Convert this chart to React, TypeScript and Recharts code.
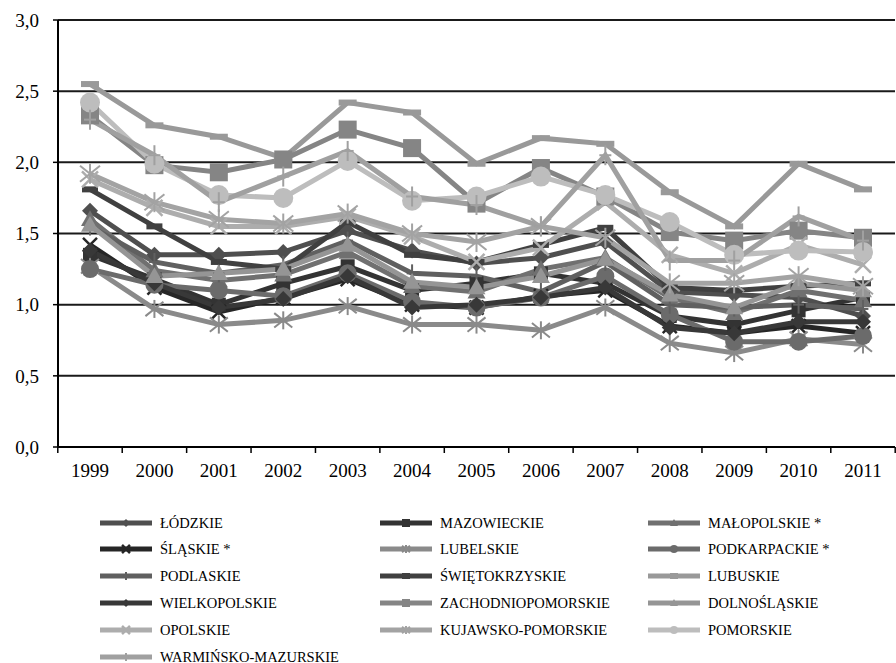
import React from 'react';
import { LineChart, Line, XAxis, YAxis, CartesianGrid } from 'recharts';

const years = ['1999', '2000', '2001', '2002', '2003', '2004', '2005', '2006', '2007', '2008', '2009', '2010', '2011'];
const yTicks = [0, 0.5, 1, 1.5, 2, 2.5, 3];

const lodzkie = [1.66, 1.35, 1.35, 1.37, 1.52, 1.38, 1.29, 1.33, 1.44, 1.09, 1.07, 1.05, 0.92];
const mazowieckie = [1.35, 1.18, 1.0, 1.15, 1.27, 1.1, 1.15, 1.22, 1.15, 0.92, 0.86, 0.96, 1.05];
const malopolskie = [1.6, 1.24, 1.17, 1.21, 1.37, 1.13, 1.09, 1.25, 1.33, 1.05, 0.94, 1.1, 1.03];
const slaskie = [1.42, 1.12, 0.95, 1.05, 1.18, 1.0, 0.98, 1.06, 1.1, 0.85, 0.8, 0.85, 0.8];
const lubelskie = [1.27, 0.97, 0.86, 0.89, 0.99, 0.86, 0.86, 0.82, 0.98, 0.73, 0.66, 0.76, 0.72];
const podkarpackie = [1.25, 1.14, 1.1, 1.06, 1.22, 1.02, 0.98, 1.05, 1.2, 0.93, 0.74, 0.74, 0.78];
const podlaskie = [1.55, 1.3, 1.22, 1.28, 1.45, 1.22, 1.2, 1.09, 1.3, 1.0, 0.98, 1.0, 0.97];
const swietokrzyskie = [1.81, 1.55, 1.3, 1.25, 1.58, 1.35, 1.3, 1.42, 1.54, 1.12, 1.1, 1.13, 1.15];
const lubuskie = [2.55, 2.26, 2.18, 2.03, 2.42, 2.35, 1.99, 2.17, 2.13, 1.79, 1.55, 1.99, 1.81];
const wielkopolskie = [1.38, 1.15, 0.98, 1.04, 1.2, 0.98, 1.0, 1.05, 1.12, 0.84, 0.8, 0.88, 0.88];
const zachodniopomorskie = [2.33, 1.98, 1.93, 2.02, 2.23, 2.1, 1.71, 1.96, 1.76, 1.51, 1.45, 1.52, 1.47];
const dolnoslaskie = [1.56, 1.2, 1.22, 1.25, 1.42, 1.16, 1.12, 1.2, 1.32, 1.07, 0.98, 1.15, 1.1];
const opolskie = [1.88, 1.68, 1.55, 1.55, 1.62, 1.48, 1.3, 1.4, 1.72, 1.35, 1.22, 1.42, 1.28];
const kujawskoPomorskie = [1.92, 1.72, 1.6, 1.57, 1.64, 1.5, 1.44, 1.55, 1.47, 1.15, 1.15, 1.2, 1.13];
const pomorskie = [2.42, 1.99, 1.77, 1.75, 2.01, 1.73, 1.76, 1.9, 1.77, 1.58, 1.35, 1.38, 1.37];
const warminskoMazurskie = [2.3, 2.05, 1.72, 1.9, 2.08, 1.76, 1.7, 1.55, 2.05, 1.31, 1.31, 1.62, 1.45];

type Shape = 'diamond' | 'square' | 'triangle' | 'x' | 'star' | 'circle' | 'plus' | 'dash';

const series: { key: string; name: string; values: number[]; color: string; shape: Shape; size: number }[] = [
  { key: 's1', name: 'ŁÓDZKIE', values: lodzkie, color: '#4f4f4f', shape: 'diamond', size: 8 },
  { key: 's2', name: 'MAZOWIECKIE', values: mazowieckie, color: '#333333', shape: 'square', size: 7 },
  { key: 's3', name: 'MAŁOPOLSKIE *', values: malopolskie, color: '#707070', shape: 'triangle', size: 9 },
  { key: 's4', name: 'ŚLĄSKIE *', values: slaskie, color: '#262626', shape: 'x', size: 7 },
  { key: 's5', name: 'LUBELSKIE', values: lubelskie, color: '#8a8a8a', shape: 'star', size: 9 },
  { key: 's6', name: 'PODKARPACKIE *', values: podkarpackie, color: '#6b6b6b', shape: 'circle', size: 9 },
  { key: 's7', name: 'PODLASKIE', values: podlaskie, color: '#606060', shape: 'plus', size: 9 },
  { key: 's8', name: 'ŚWIĘTOKRZYSKIE', values: swietokrzyskie, color: '#404040', shape: 'dash', size: 8 },
  { key: 's9', name: 'LUBUSKIE', values: lubuskie, color: '#999999', shape: 'dash', size: 9 },
  { key: 's10', name: 'WIELKOPOLSKIE', values: wielkopolskie, color: '#383838', shape: 'diamond', size: 8 },
  { key: 's11', name: 'ZACHODNIOPOMORSKIE', values: zachodniopomorskie, color: '#858585', shape: 'square', size: 9 },
  { key: 's12', name: 'DOLNOŚLĄSKIE', values: dolnoslaskie, color: '#959595', shape: 'triangle', size: 9 },
  { key: 's13', name: 'OPOLSKIE', values: opolskie, color: '#adadad', shape: 'x', size: 8 },
  { key: 's14', name: 'KUJAWSKO-POMORSKIE', values: kujawskoPomorskie, color: '#a3a3a3', shape: 'star', size: 10 },
  { key: 's15', name: 'POMORSKIE', values: pomorskie, color: '#bdbdbd', shape: 'circle', size: 10 },
  { key: 's16', name: 'WARMIŃSKO-MAZURSKIE', values: warminskoMazurskie, color: '#a0a0a0', shape: 'plus', size: 10 },
];

const data = years.map((year, i) => {
  const row: Record<string, string | number> = { year };
  series.forEach((s) => {
    row[s.key] = s.values[i];
  });
  return row;
});

const FONT = "'Liberation Serif', 'DejaVu Serif', serif";

function Marker({ cx, cy, shape, color, size }: { cx: number; cy: number; shape: Shape; color: string; size: number }) {
  const s = size;
  switch (shape) {
    case 'diamond':
      return <polygon points={`${cx},${cy - s} ${cx + s},${cy} ${cx},${cy + s} ${cx - s},${cy}`} fill={color} />;
    case 'square':
      return <rect x={cx - s} y={cy - s} width={s * 2} height={s * 2} fill={color} />;
    case 'triangle':
      return <polygon points={`${cx},${cy - s} ${cx + s},${cy + s * 0.75} ${cx - s},${cy + s * 0.75}`} fill={color} />;
    case 'circle':
      return <circle cx={cx} cy={cy} r={s} fill={color} />;
    case 'x':
      return (
        <g stroke={color} strokeWidth={2.5}>
          <line x1={cx - s} y1={cy - s} x2={cx + s} y2={cy + s} />
          <line x1={cx - s} y1={cy + s} x2={cx + s} y2={cy - s} />
        </g>
      );
    case 'star':
      return (
        <g stroke={color} strokeWidth={2}>
          <line x1={cx - s} y1={cy - s * 0.8} x2={cx + s} y2={cy + s * 0.8} />
          <line x1={cx - s} y1={cy + s * 0.8} x2={cx + s} y2={cy - s * 0.8} />
          <line x1={cx} y1={cy - s} x2={cx} y2={cy + s} />
        </g>
      );
    case 'plus':
      return (
        <g stroke={color} strokeWidth={2}>
          <line x1={cx} y1={cy - s} x2={cx} y2={cy + s} />
          <line x1={cx - s * 0.6} y1={cy} x2={cx + s * 0.6} y2={cy} />
        </g>
      );
    case 'dash':
      return <rect x={cx - s} y={cy - 3} width={s * 2} height={6} fill={color} />;
    default:
      return null;
  }
}

function YearTick(props: any) {
  const { x, y, payload, index } = props;
  const half = 32.2;
  return (
    <g>
      <line x1={x - half} x2={x - half} y1={y} y2={y + 6} stroke="#000" strokeWidth={1.5} />
      {index === years.length - 1 && (
        <line x1={x + half} x2={x + half} y1={y} y2={y + 6} stroke="#000" strokeWidth={1.5} />
      )}
      <text x={x} y={y + 30} textAnchor="middle" fill="#000" fontSize={19} style={{ fontFamily: FONT }}>
        {payload.value}
      </text>
    </g>
  );
}

const legendCols = [100, 380, 648];
const legendRows = [523, 549, 576, 603, 630, 657];

function ChartLegend() {
  return (
    <>
      {series.map((s, i) => {
        const col = i % 3;
        const row = Math.floor(i / 3);
        return (
          <div
            key={s.key}
            style={{
              position: 'absolute',
              left: legendCols[col],
              top: legendRows[row] - 10,
              height: 20,
              display: 'flex',
              alignItems: 'center',
              whiteSpace: 'nowrap',
            }}
          >
            <svg width={52} height={20} style={{ display: 'block' }}>
              <line x1={0} x2={52} y1={10} y2={10} stroke={s.color} strokeWidth={5} />
              <Marker cx={26} cy={10} shape={s.shape} color={s.color} size={4} />
            </svg>
            <span style={{ marginLeft: 8, fontFamily: FONT, fontSize: 14.5, color: '#000' }}>{s.name}</span>
          </div>
        );
      })}
    </>
  );
}

export default function App() {
  return (
    <div style={{ position: 'absolute', left: 0, top: 0, width: 896, height: 663, background: '#fff', fontFamily: FONT }}>
      <LineChart width={896} height={500} data={data} margin={{ top: 20, right: 1, left: 0, bottom: 0 }}>
        <CartesianGrid horizontal vertical={false} stroke="#1a1a1a" strokeWidth={2} />
        <XAxis
          dataKey="year"
          interval={0}
          height={53}
          padding={{ left: 32, right: 32 }}
          tickLine={false}
          tickSize={0}
          tickMargin={0}
          axisLine={{ stroke: '#000', strokeWidth: 2 }}
          tick={<YearTick />}
        />
        <YAxis
          domain={[0, 3]}
          ticks={yTicks}
          width={58}
          tickSize={5}
          tickMargin={14}
          axisLine={{ stroke: '#000', strokeWidth: 2 }}
          tickLine={{ stroke: '#000', strokeWidth: 1.5 }}
          tick={{ fill: '#000', fontSize: 19, style: { fontFamily: FONT } }}
          tickFormatter={(v: number) => v.toFixed(1).replace('.', ',')}
        />
        {series.map((s) => (
          <Line
            key={s.key}
            dataKey={s.key}
            name={s.name}
            stroke={s.color}
            strokeWidth={5}
            isAnimationActive={false}
            dot={(p: any) => (
              <Marker key={`${s.key}-${p.index}`} cx={p.cx} cy={p.cy} shape={s.shape} color={s.color} size={s.size} />
            )}
            activeDot={false}
          />
        ))}
      </LineChart>
      <ChartLegend />
    </div>
  );
}
